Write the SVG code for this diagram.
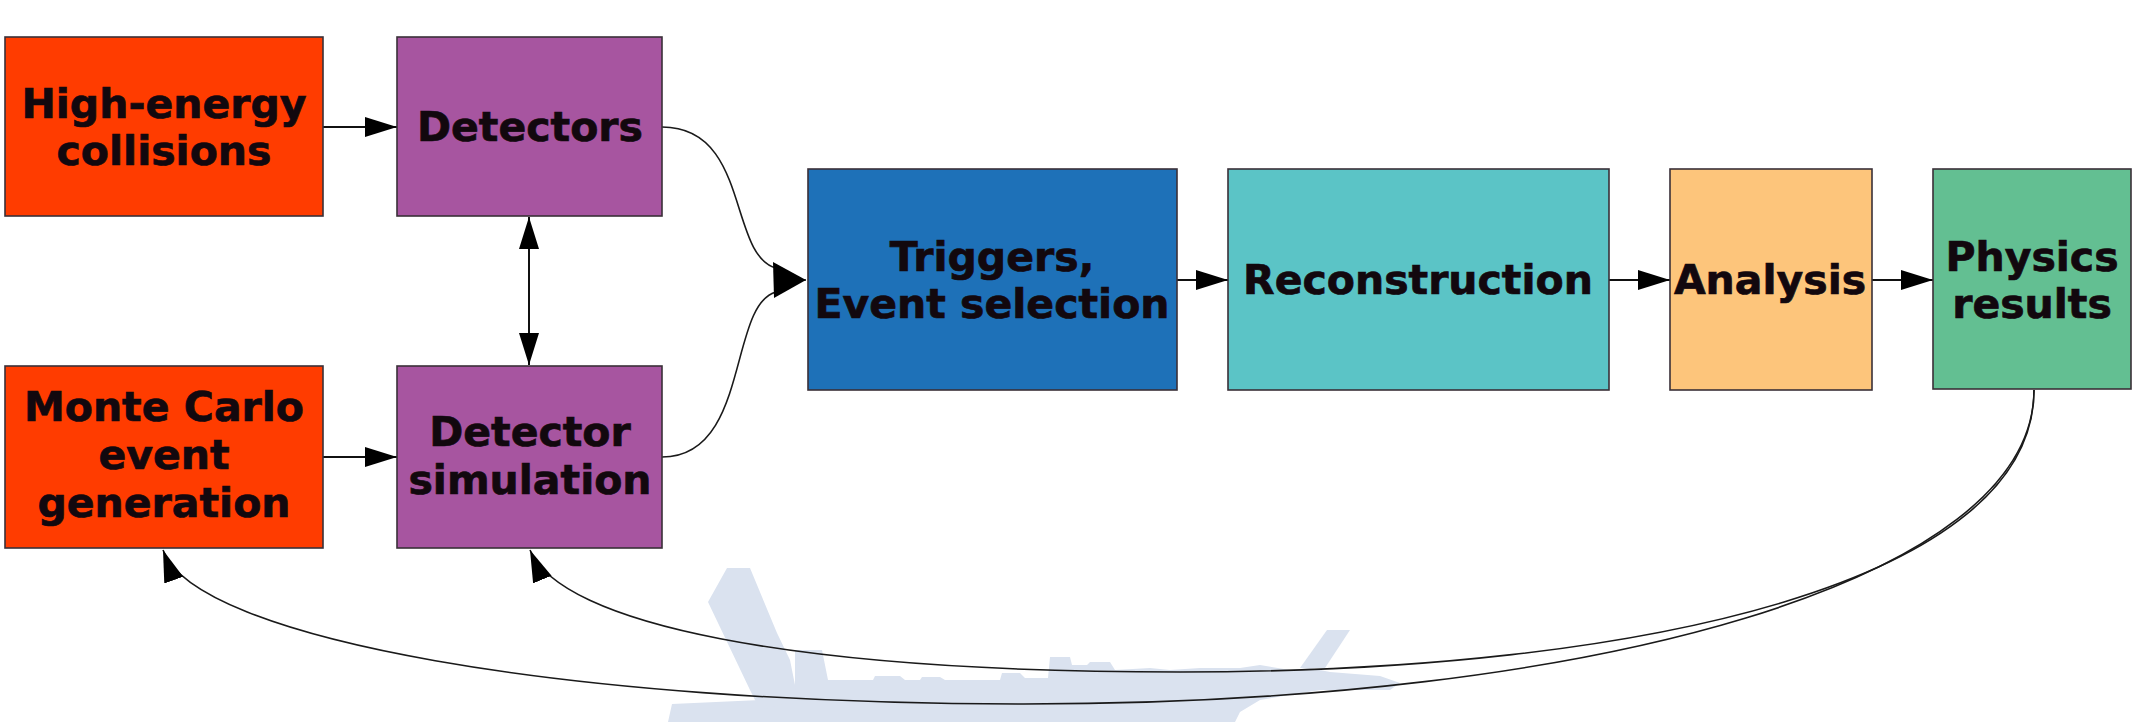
<svg xmlns="http://www.w3.org/2000/svg" width="2133" height="722" viewBox="0 0 2133 722">
  <defs>
    <style>
      .box { stroke: #3a3038; stroke-width: 1.6; }
      .lbl { font-family: "DejaVu Sans", "Liberation Sans", sans-serif; font-weight: bold; font-size: 41px; fill: #12080e; stroke: #12080e; stroke-width: 0.7; text-anchor: middle; }
      .edge { fill: none; stroke: #111; stroke-width: 2; }
      .back { fill: none; stroke: #1a1a1a; stroke-width: 1.6; }
      .wm { fill: #dae2ef; }
    </style>
    <marker id="arrow" markerUnits="userSpaceOnUse" markerWidth="34" markerHeight="22" refX="32" refY="10" orient="auto" viewBox="0 0 34 22">
      <path d="M0,0 L32,10 L0,20 Z" fill="#000"/>
    </marker>
    <marker id="arrowStart" markerUnits="userSpaceOnUse" markerWidth="34" markerHeight="22" refX="32" refY="10" orient="auto-start-reverse" viewBox="0 0 34 22">
      <path d="M0,0 L32,10 L0,20 Z" fill="#000"/>
    </marker>
    <marker id="arrowWide" markerUnits="userSpaceOnUse" markerWidth="36" markerHeight="38" refX="33" refY="18" orient="auto" viewBox="0 0 36 38">
      <path d="M0,0 L33,18 L1,36 Z" fill="#000"/>
    </marker>
  </defs>

  <rect width="2133" height="722" fill="#ffffff"/>

  <!-- pale skyline emblem in the background -->
  <g id="emblem">
    <path class="wm" d="M668,722 L672,704 L760,700 L795,690 L795,650 L822,650 L828,680 L873,680 L875,676 L900,676 L905,680 L920,680 L922,677 L940,677 L945,680 L1000,680 L1002,673 L1020,673 L1025,678 L1048,678 L1050,657 L1070,657 L1072,665 L1087,665 L1090,662 L1110,662 L1115,670 L1150,668 L1170,670 L1200,668 L1240,668 L1260,665 L1290,670 L1310,668 L1330,672 L1380,676 L1400,683 L1390,690 L1320,690 L1260,700 L1240,712 L1235,722 Z"/>
    <path class="wm" d="M727,568 L750,568 L777,633 L790,660 L798,700 L760,710 L750,690 L708,602 Z"/>
    <path class="wm" d="M1327,630 L1350,630 L1325,668 L1300,668 Z"/>
  </g>

  <!-- connectors -->
  <g id="connectors">
    <line class="edge" x1="323" y1="127" x2="397" y2="127" marker-end="url(#arrow)"/>
    <line class="edge" x1="323" y1="457" x2="397" y2="457" marker-end="url(#arrow)"/>
    <line class="edge" x1="529" y1="217" x2="529" y2="365" marker-start="url(#arrowStart)" marker-end="url(#arrow)"/>
    <path class="back" d="M662,127 C750,127 728,255 776,268"/>
    <path class="back" d="M662,457 C750,457 728,305 776,292"/>
    <path class="back" d="M774,280 L806,280" marker-end="url(#arrowWide)"/>
    <line class="edge" x1="1177" y1="280" x2="1228" y2="280" marker-end="url(#arrow)"/>
    <line class="edge" x1="1609" y1="280" x2="1670" y2="280" marker-end="url(#arrow)"/>
    <line class="edge" x1="1872" y1="280" x2="1933" y2="280" marker-end="url(#arrow)"/>
    <!-- feedback loops from the results back to the simulation chain -->
    <path class="back" d="M2034,390 C2034,580 1600,704 1024,704 C570,704 195,640 163,550" marker-end="url(#arrow)"/>
    <path class="back" d="M2034,390 C2034,580 1650,672 1180,672 C790,672 561,624 530,550" marker-end="url(#arrow)"/>
  </g>

  <g id="high-energy-collisions">
    <rect class="box" x="5" y="37" width="318" height="179" fill="#ff3c00"/>
    <text class="lbl" x="164" y="118">High-energy</text>
    <text class="lbl" x="164" y="165">collisions</text>
  </g>

  <g id="detectors">
    <rect class="box" x="397" y="37" width="265" height="179" fill="#a755a0"/>
    <text class="lbl" x="530" y="141">Detectors</text>
  </g>

  <g id="monte-carlo">
    <rect class="box" x="5" y="366" width="318" height="182" fill="#ff3c00"/>
    <text class="lbl" x="164" y="421">Monte Carlo</text>
    <text class="lbl" x="164" y="469">event</text>
    <text class="lbl" x="164" y="517">generation</text>
  </g>

  <g id="detector-simulation">
    <rect class="box" x="397" y="366" width="265" height="182" fill="#a755a0"/>
    <text class="lbl" x="530" y="446">Detector</text>
    <text class="lbl" x="530" y="494">simulation</text>
  </g>

  <g id="triggers">
    <rect class="box" x="808" y="169" width="369" height="221" fill="#1e71b8"/>
    <text class="lbl" x="992" y="271">Triggers,</text>
    <text class="lbl" x="992" y="318">Event selection</text>
  </g>

  <g id="reconstruction">
    <rect class="box" x="1228" y="169" width="381" height="221" fill="#5bc4c6"/>
    <text class="lbl" x="1418" y="294">Reconstruction</text>
  </g>

  <g id="analysis">
    <rect class="box" x="1670" y="169" width="202" height="221" fill="#fdc57b"/>
    <text class="lbl" x="1770" y="294">Analysis</text>
  </g>

  <g id="physics-results">
    <rect class="box" x="1933" y="169" width="198" height="220" fill="#63bf92"/>
    <text class="lbl" x="2032" y="271">Physics</text>
    <text class="lbl" x="2032" y="318">results</text>
  </g>
</svg>
